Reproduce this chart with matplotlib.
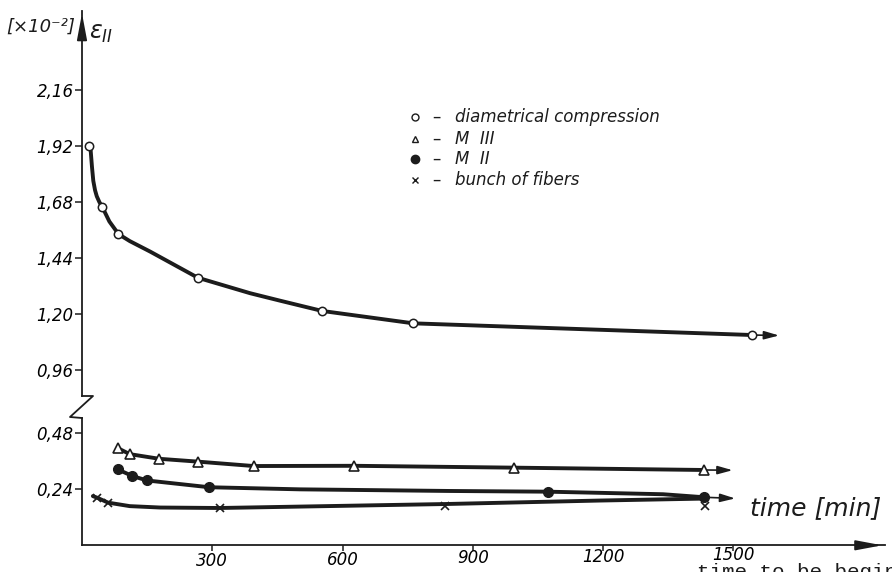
import matplotlib
matplotlib.use("Agg")
import matplotlib.pyplot as plt
from matplotlib.lines import Line2D
from matplotlib.transforms import ScaledTranslation

# ---------------- data ----------------
# diametrical compression (open circles)
dc_time = [17, 47, 84, 267, 553, 763, 1543]
dc_strain = [1.92, 1.658, 1.543, 1.356, 1.214, 1.161, 1.111]
dc_curve_time = [17, 20, 23, 26, 30, 34, 40, 47, 63, 84, 110, 157, 267, 387, 456, 553, 763, 1543]
dc_curve_strain = [1.92, 1.90, 1.83, 1.771, 1.731, 1.705, 1.680, 1.658, 1.597, 1.543, 1.513,
                   1.468, 1.356, 1.290, 1.258, 1.214, 1.161, 1.111]
dc_arrow_time, dc_arrow_strain = 1605, 1.109

# M III (open triangles)
m3_time = [82, 110, 178, 266, 395, 627, 995, 1433]
m3_strain = [0.417, 0.391, 0.371, 0.359, 0.340, 0.341, 0.333, 0.323]
m3_arrow_time, m3_arrow_strain = 1498, 0.322

# M II (filled circles)
m2_time = [82, 116, 150, 293, 1072, 1433]
m2_strain = [0.326, 0.297, 0.278, 0.249, 0.230, 0.206]
m2_curve_time = [82, 116, 150, 293, 502, 847, 1072, 1338, 1433]
m2_curve_strain = [0.326, 0.297, 0.278, 0.249, 0.240, 0.233, 0.230, 0.219, 0.206]
m2_arrow_time, m2_arrow_strain = 1504, 0.201

# bunch of fibers (crosses)
fb_time = [35, 60, 317, 835, 1434]
fb_strain = [0.204, 0.183, 0.160, 0.170, 0.170]
fb_curve_time = [25, 35, 60, 110, 180, 317, 836, 1193, 1423]
fb_curve_strain = [0.211, 0.204, 0.183, 0.168, 0.162, 0.160, 0.177, 0.192, 0.200]

upper_ticks = [0.96, 1.20, 1.44, 1.68, 1.92, 2.16]
upper_labels = ["0,96", "1,20", "1,44", "1,68", "1,92", "2,16"]
lower_ticks = [0.24, 0.48]
lower_labels = ["0,24", "0,48"]
x_ticks = [300, 600, 900, 1200, 1500]
x_labels = ["300", "600", "900", "1200", "1500"]

legend_labels = ["diametrical compression", "M  III", "M  II", "bunch of fibers"]
x_title = "time [min]"
y_unit = "[×10⁻²]"
y_title = r"$\varepsilon_{II}$"
page_text = "time to be begin"

# ---------------- figure ----------------
W, H = 892, 572
fig = plt.figure(figsize=(W / 100, H / 100), dpi=100)
FONT = "DejaVu Sans"
INK = "#1c1c1c"


def fx(px):
    return px / W


def fy(py):
    return 1 - py / H


left = fx(82)
width = fx(885) - left
ax_u = fig.add_axes([left, fy(396), width, fy(10.5) - fy(396)])
ax_l = fig.add_axes([left, fy(545.3), width, fy(418) - fy(545.3)])

xmax = (885 - 82) / 0.4343
for ax in (ax_u, ax_l):
    ax.set_xlim(0, xmax)
    ax.patch.set_alpha(0)
    for s in ("top", "right"):
        ax.spines[s].set_visible(False)
    ax.spines["left"].set_linewidth(1.3)
    ax.spines["left"].set_color(INK)
    ax.tick_params(axis="y", direction="out", length=5, width=1.1, color=INK,
                   labelsize=12, pad=1)

ax_u.set_ylim(0.85, 2.50)
ax_l.set_ylim(0.0, 0.546)
ax_u.spines["bottom"].set_visible(False)
ax_u.set_xticks([])
ax_u.set_yticks(upper_ticks)
ax_u.set_yticklabels(upper_labels, fontstyle="italic", family=FONT)
ax_l.set_yticks(lower_ticks)
ax_l.set_yticklabels(lower_labels, fontstyle="italic", family=FONT)
ax_l.set_xticks(x_ticks)
ax_l.set_xticklabels(x_labels, fontstyle="italic", family=FONT)
ax_l.tick_params(axis="x", direction="out", length=4, width=1.1, color=INK,
                 labelsize=12, pad=1)
ax_l.spines["bottom"].set_linewidth(1.3)
ax_l.spines["bottom"].set_color(INK)
# the scanned page is slightly tilted: labels further right sit a little higher
for lab, t in zip(ax_l.get_xticklabels(), x_ticks):
    lab.set_transform(lab.get_transform()
                      + ScaledTranslation(0, (t - 300) / 1200 * 0.06, fig.dpi_scale_trans))

# axis arrows
ax_u.annotate("", xy=(0, 1.0), xytext=(0, 0.94), xycoords="axes fraction",
              arrowprops=dict(arrowstyle="-|>,head_length=1.6,head_width=0.3",
                              lw=1.3, color=INK), annotation_clip=False)
ax_l.annotate("", xy=(1.0, 0), xytext=(0.96, 0), xycoords="axes fraction",
              arrowprops=dict(arrowstyle="-|>,head_length=1.6,head_width=0.3",
                              lw=1.3, color=INK), annotation_clip=False)

# axis break zigzag
fig.add_artist(Line2D([fx(82), fx(93), fx(70), fx(82)],
                      [fy(396), fy(396), fy(417), fy(418)],
                      color=INK, lw=1.3))

LW = 2.8
MK = dict(color=INK, lw=0, zorder=5)


def end_arrow(ax, x0, y0, x1, y1):
    ax.annotate("", xy=(x1, y1), xytext=(x0, y0),
                arrowprops=dict(arrowstyle="-|>,head_length=0.9,head_width=0.25",
                                lw=1.2, color=INK, shrinkA=0, shrinkB=0),
                annotation_clip=False)


# diametrical compression
ax_u.plot(dc_curve_time, dc_curve_strain, color=INK, lw=LW, solid_capstyle="round",
          solid_joinstyle="round")
ax_u.plot(dc_time, dc_strain, marker="o", ms=6, mfc="white", mec=INK, mew=1.1, **MK)
end_arrow(ax_u, dc_time[-1], dc_strain[-1], dc_arrow_time, dc_arrow_strain)

# M III
ax_l.plot(m3_time, m3_strain, color=INK, lw=LW, solid_capstyle="round",
          solid_joinstyle="round")
ax_l.plot(m3_time, m3_strain, marker="^", ms=7, mfc="white", mec=INK, mew=1.2, **MK)
end_arrow(ax_l, m3_time[-1], m3_strain[-1], m3_arrow_time, m3_arrow_strain)

# M II
ax_l.plot(m2_curve_time, m2_curve_strain, color=INK, lw=LW, solid_capstyle="round",
          solid_joinstyle="round")
ax_l.plot(m2_time, m2_strain, marker="o", ms=7, mfc=INK, mec=INK, **MK)
end_arrow(ax_l, m2_time[-1], m2_strain[-1], m2_arrow_time, m2_arrow_strain)

# bunch of fibers
ax_l.plot(fb_curve_time, fb_curve_strain, color=INK, lw=LW, solid_capstyle="round",
          solid_joinstyle="round")
ax_l.plot(fb_time, fb_strain, marker="x", ms=6, mec=INK, mew=1.2, **MK)

# legend (hand lettered)
leg_rows = [117, 139, 159, 180]
leg_markers = [dict(marker="o", mfc="white", ms=5),
               dict(marker="^", mfc="white", ms=5),
               dict(marker="o", mfc=INK, ms=6),
               dict(marker="x", mfc=INK, ms=5)]
for row, lab, mk in zip(leg_rows, legend_labels, leg_markers):
    fig.add_artist(Line2D([fx(415)], [fy(row)], mec=INK, mew=1.0, lw=0, **mk))
    fig.text(fx(432), fy(row), "–", fontsize=12, va="center", ha="left",
             family=FONT, color=INK)
    fig.text(fx(455), fy(row), lab, fontsize=12, va="center", ha="left",
             family=FONT, style="italic", color=INK)

# axis titles
fig.text(fx(750), fy(508), x_title, fontsize=18, va="center", ha="left",
         family=FONT, style="italic", color=INK)
fig.text(fx(6), fy(27), y_unit, fontsize=13, va="center", ha="left",
         family=FONT, style="italic", color=INK)
fig.text(fx(89), fy(33), y_title, fontsize=17, va="center", ha="left", color=INK)

# partly cut page text at the bottom
fig.text(fx(697), fy(578), page_text, fontsize=15, va="baseline", ha="left",
         family="Liberation Mono", color=INK)

fig.savefig("out.png", dpi=100)
